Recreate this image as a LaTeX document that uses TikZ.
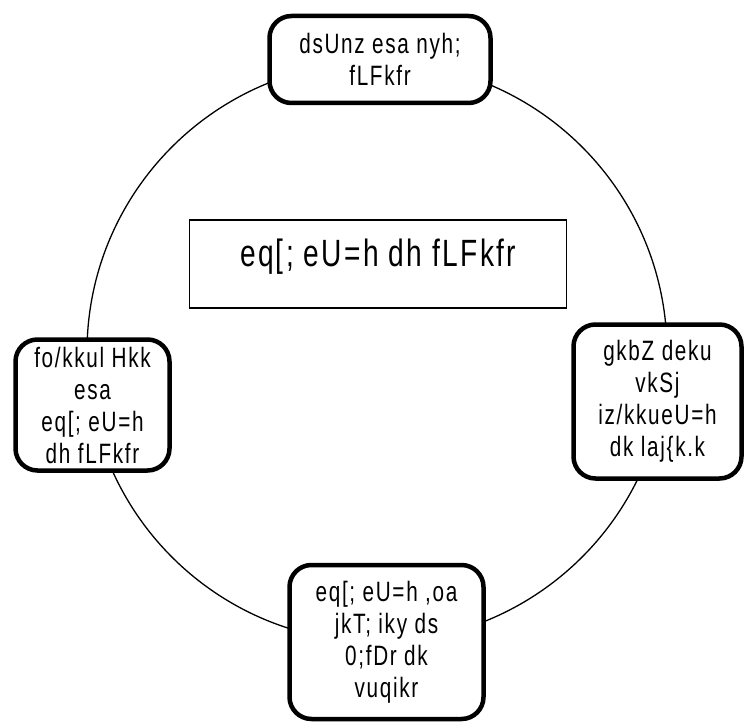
\documentclass[tikz,border=0pt]{standalone}
\usepackage{fontspec}
\setmainfont{Liberation Sans}[FakeStretch=0.74, LetterSpace=6]
\usetikzlibrary{positioning}

\begin{document}
\begin{tikzpicture}[
    x=1pt, y=1pt,
    stagebox/.style={rectangle, draw, line width=4.5pt, rounded corners=22pt, fill=white, align=center, inner sep=2pt, font=\fontsize{28}{32}\selectfont},
    titlebox/.style={rectangle, draw, line width=1.5pt, fill=white, minimum width=377pt, minimum height=88pt, text height=30pt, text depth=24pt, font=\fontsize{38}{46}\selectfont},
    ring/.style={line width=1.3pt}
]
    \useasboundingbox (0,0) rectangle (749,724);

    % the cycle behind the boxes
    \coordinate (hub) at (377,372);
    \draw[ring] (hub) circle[radius=290];

    \node[titlebox] (title) at (378,460) {eq[; eU=h dh fLFkfr};

    \node[stagebox, minimum width=221pt, minimum height=87pt] (s1) at (380,664.5) {dsUnz esa nyh;\\ fLFkfr};
    \node[stagebox, minimum width=168pt, minimum height=154pt] (s2) at (657.5,322.5) {gkbZ deku\\ vkSj\\ iz/kkueU=h\\ dk laj\{k.k};
    \node[stagebox, minimum width=194pt, minimum height=154pt] (s3) at (386.5,82) {eq[; eU=h ,oa\\ jkT; iky ds\\ 0;fDr dk\\ vuqikr};
    \node[stagebox, minimum width=154pt, minimum height=131pt] (s4) at (92.5,319) {fo/kkul Hkk\\ esa\\ eq[; eU=h\\ dh fLFkfr};
\end{tikzpicture}
\end{document}
